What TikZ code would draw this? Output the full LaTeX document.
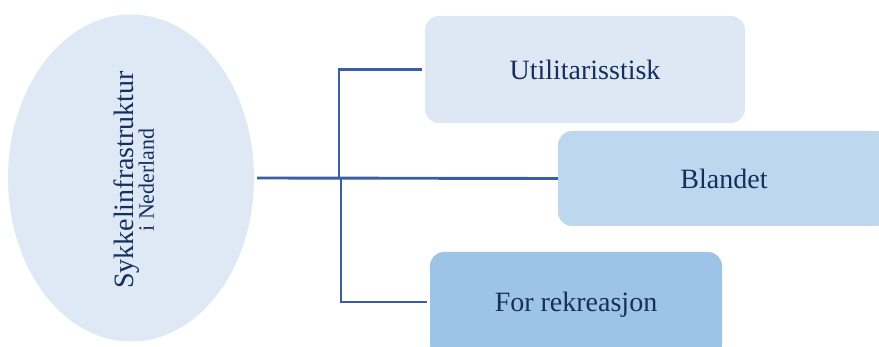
\documentclass[tikz,border=0pt]{standalone}
\usepackage{fontspec}
\setmainfont{Liberation Serif}
\usetikzlibrary{shapes.geometric}
\definecolor{ellfill}{HTML}{DEE9F5}
\definecolor{boxa}{HTML}{DDE8F4}
\definecolor{boxb}{HTML}{BDD7EE}
\definecolor{boxc}{HTML}{9DC3E6}
\definecolor{linec}{HTML}{3A5EA6}
\definecolor{navy}{HTML}{15305E}
\tikzset{
  branchbox/.style={rectangle, rounded corners=14pt, inner sep=0pt, text=navy,
    font=\fontsize{28}{32}\selectfont},
  conn/.style={draw=linec, line width=2.9pt},
}
\begin{document}
\begin{tikzpicture}[x=1pt,y=-1pt]
\useasboundingbox (0,0) rectangle (879,347);
\clip (0,0) rectangle (879,347);
\node[ellipse, fill=ellfill, minimum width=246pt, minimum height=327pt, inner sep=0pt] (ell) at (131,178) {};
\node[rotate=90, align=center, text=navy, inner sep=0pt] (lbl) at (134,180)
  {{\fontsize{28}{32}\selectfont Sykkelinfrastruktur}\\[-2pt]{\fontsize{22}{26}\selectfont i Nederland}};
\node[branchbox, fill=boxa, minimum width=320pt, minimum height=107pt] (ut) at (585,69.5) {Utilitarisstisk};
\node[branchbox, fill=boxb, minimum width=332pt, minimum height=95pt] (bl) at (724,178.5) {Blandet};
\node[branchbox, fill=boxc, minimum width=292pt, minimum height=106pt] (fr) at (576,305) {For rekreasjon};
\coordinate (j1) at (339,178);
\coordinate (j2) at (341,178);
\draw[conn] (257,178) coordinate (s) -- (bl.west);
\draw[conn] (j1) |- ([xshift=-3pt]ut.west);
\draw[conn] (j2) |- ([xshift=-3pt]fr.west |- 0,302);
\end{tikzpicture}
\end{document}
